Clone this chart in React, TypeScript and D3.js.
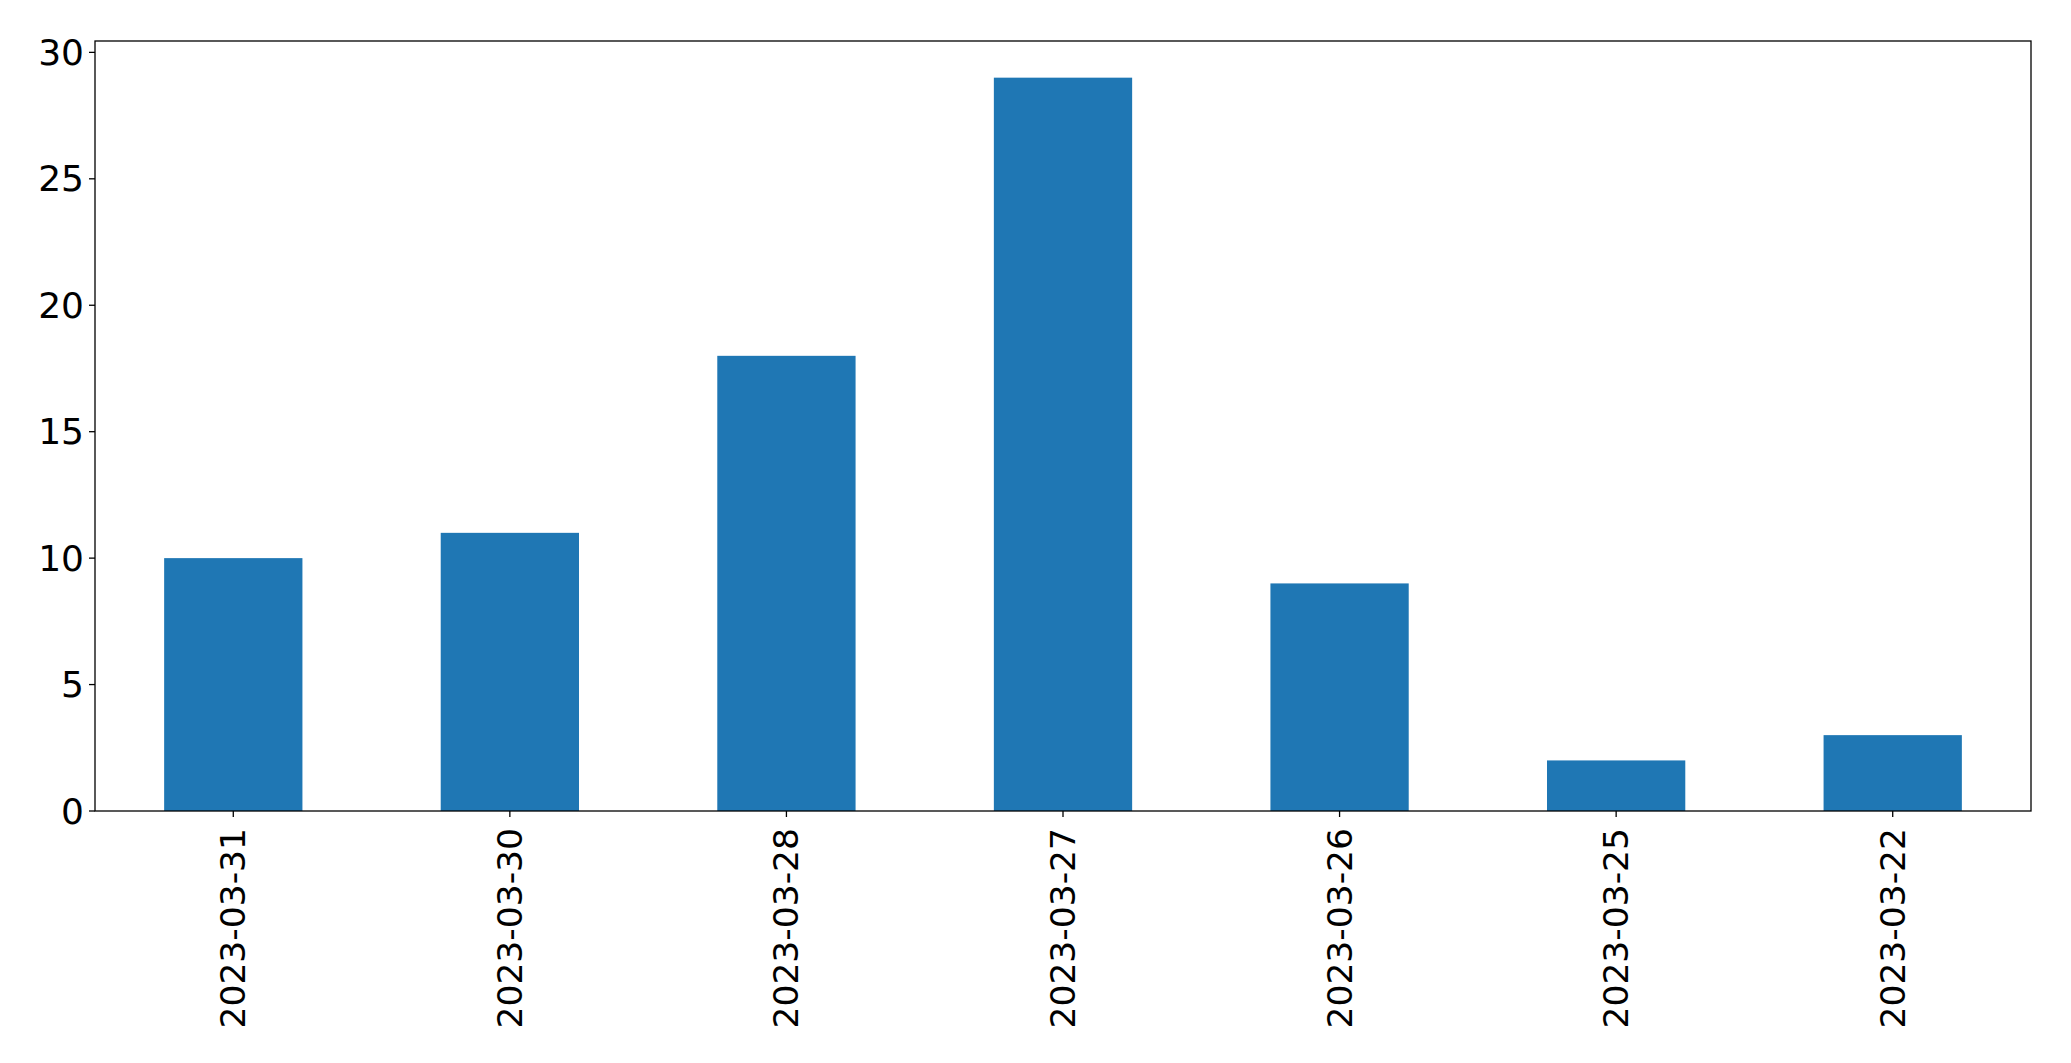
import React from "react";
import * as d3 from "d3";

const categories = ["2023-03-31", "2023-03-30", "2023-03-28", "2023-03-27", "2023-03-26", "2023-03-25", "2023-03-22"];
const values = [10, 11, 18, 29, 9, 2, 3];
const yTicks = [0, 5, 10, 15, 20, 25, 30];

export default function App() {
  const W = 2071, H = 1063;
  const left = 95, right = 2031, top = 41, bottom = 811;
  const n = categories.length;
  const x = d3.scaleLinear().domain([-0.5, n - 0.5]).range([left, right]);
  const yMax = d3.max(values)! * 1.05;
  const y = d3.scaleLinear().domain([0, yMax]).range([bottom, top]);
  const bw = x(0.25) - x(-0.25);
  const font = "DejaVu Sans, sans-serif";
  return (
    <svg width={W} height={H} style={{ position: "absolute", left: 0, top: 0 }}>
      <rect width={W} height={H} fill="#fff" />
      {values.map((v, i) => (
        <rect key={i} x={x(i) - bw / 2} y={y(v)} width={bw} height={y(0) - y(v)} fill="#1f77b4" />
      ))}
      <rect x={left} y={top} width={right - left} height={bottom - top} fill="none" stroke="#000" strokeWidth={1.3} />
      {yTicks.map((t) => (
        <g key={t}>
          <line x1={left - 6} x2={left} y1={y(t)} y2={y(t)} stroke="#000" strokeWidth={1.3} />
          <text x={left - 11} y={y(t)} textAnchor="end" dominantBaseline="central" fontFamily={font} fontSize={36} fill="#000">{t}</text>
        </g>
      ))}
      {categories.map((c, i) => (
        <g key={c}>
          <line x1={x(i)} x2={x(i)} y1={bottom} y2={bottom + 6} stroke="#000" strokeWidth={1.3} />
          <text transform={`translate(${x(i)},${bottom + 17}) rotate(-90)`} textAnchor="end" dominantBaseline="central" fontFamily={font} fontSize={34.5} fill="#000">{c}</text>
        </g>
      ))}
    </svg>
  );
}
